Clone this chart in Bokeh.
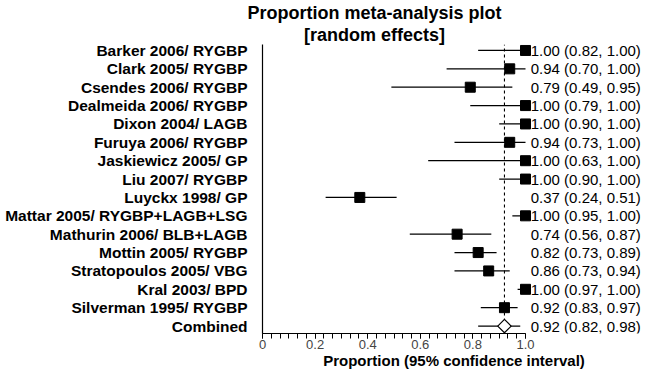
import math
from bokeh.plotting import figure
from bokeh.models import Range1d, FixedTicker, Title, ColumnDataSource
from bokeh.core.properties import value
from bokeh.embed import file_html
from bokeh.resources import INLINE

# ---- data ----
studies = ["Barker 2006/ RYGBP", "Clark 2005/ RYGBP", "Csendes 2006/ RYGBP",
           "Dealmeida 2006/ RYGBP", "Dixon 2004/ LAGB", "Furuya 2006/ RYGBP",
           "Jaskiewicz 2005/ GP", "Liu 2007/ RYGBP", "Luyckx 1998/ GP",
           "Mattar 2005/ RYGBP+LAGB+LSG", "Mathurin 2006/ BLB+LAGB",
           "Mottin 2005/ RYGBP", "Stratopoulos 2005/ VBG", "Kral 2003/ BPD",
           "Silverman 1995/ RYGBP"]
estimate = [1.00, 0.94, 0.79, 1.00, 1.00, 0.94, 1.00, 1.00, 0.37, 1.00, 0.74, 0.82, 0.86, 1.00, 0.92]
lower = [0.82, 0.70, 0.49, 0.79, 0.90, 0.73, 0.63, 0.90, 0.24, 0.95, 0.56, 0.73, 0.73, 0.97, 0.83]
upper = [1.00, 1.00, 0.95, 1.00, 1.00, 1.00, 1.00, 1.00, 0.51, 1.00, 0.87, 0.89, 0.94, 1.00, 0.97]
combined_label = "Combined"
combined_est = 0.92
combined_lower = 0.82
combined_upper = 0.98
x_tick_values = [0, 0.2, 0.4, 0.6, 0.8, 1.0]
x_tick_labels = ["0", "0.2", "0.4", "0.6", "0.8", "1.0"]
title_lines = ["Proportion meta-analysis plot", "[random effects]"]
x_axis_title = "Proportion (95% confidence interval)"

FONT = "Liberation Sans"

n_rows = len(studies) + 1
row_y = [n_rows - 1 - i for i in range(len(studies))]
comb_y = 0
all_labels = studies + [combined_label]
all_y = row_y + [comb_y]

def fmt(e, l, h):
    return f"{e:.2f} ({l:.2f}, {h:.2f})"

texts = [fmt(e, l, h) for e, l, h in zip(estimate, lower, upper)] + [fmt(combined_est, combined_lower, combined_upper)]

# ---- layout (pixel geometry) ----
W, H = 645, 371
left_b, top_b, bottom_b = 262, 44, 36
frame_w = W - left_b
unit_px = 263.0                     # pixels for proportion 0 -> 1
first_row_px, last_row_px, axis_px = 50.0, 327.5, 335.0
row_px = (last_row_px - first_row_px) / (n_rows - 1)
top_row = n_rows - 1
y_start = -(axis_px - last_row_px) / row_px
y_end = top_row + (first_row_px - top_b) / row_px
axis_top = y_end

p = figure(width=W, height=H, output_backend="svg", toolbar_location=None,
           x_range=Range1d(0, frame_w / unit_px), y_range=Range1d(y_start, y_end),
           min_border_left=left_b, min_border_right=0, min_border_top=top_b,
           min_border_bottom=bottom_b)
p.outline_line_color = None
p.xgrid.visible = False
p.ygrid.visible = False
p.background_fill_color = "white"
p.border_fill_color = "white"

# y axis with study labels
yax = p.yaxis[0]
yax.ticker = FixedTicker(ticks=all_y)
yax.major_label_overrides = {y: lab for y, lab in zip(all_y, all_labels)}
yax.major_tick_line_color = None
yax.minor_tick_line_color = None
yax.major_label_standoff = 9
yax.major_label_text_font = FONT
yax.major_label_text_font_style = "bold"
yax.major_label_text_font_size = "15.5px"
yax.major_label_text_color = "black"
yax.axis_line_color = "black"
yax.axis_line_width = 1.2
yax.bounds = (y_start, axis_top)

# x axis
xax = p.xaxis[0]
xax.ticker = FixedTicker(ticks=x_tick_values, minor_ticks=[i / 30 for i in range(31)])
xax.major_label_overrides = {v: t for v, t in zip(x_tick_values, x_tick_labels)}
xax.bounds = (0, 1)
xax.axis_line_color = "black"
xax.axis_line_width = 1.2
xax.major_tick_out = 5
xax.major_tick_in = 0
xax.minor_tick_out = 5
xax.minor_tick_in = 0
xax.major_tick_line_color = "black"
xax.minor_tick_line_color = "black"
xax.major_label_standoff = 1
xax.major_label_text_font = FONT
xax.major_label_text_font_size = "13px"
xax.major_label_text_color = "#444444"
xax.axis_label = x_axis_title
xax.axis_label_standoff = 0
xax.axis_label_text_font = FONT
xax.axis_label_text_font_style = "bold"
xax.axis_label_text_font_size = "15px"
xax.axis_label_text_color = "black"

# pooled estimate reference line
p.segment(x0=[combined_est], x1=[combined_est], y0=[y_start], y1=[axis_top],
          line_color="black", line_width=1.1, line_dash="3 3")

src = ColumnDataSource(dict(y=row_y, est=estimate, lo=lower, hi=upper))
p.segment(x0="lo", x1="hi", y0="y", y1="y", source=src, line_color="black", line_width=1.3)
p.scatter(x="est", y="y", source=src, marker="square", size=10,
          fill_color="black", line_color="black")

# combined
p.segment(x0=[combined_lower], x1=[combined_upper], y0=[comb_y], y1=[comb_y],
          line_color="black", line_width=1.3)
p.scatter(x=[combined_est], y=[comb_y], marker="square", angle=math.pi / 4, size=9.5,
          fill_color="white", line_color="black", line_width=1.2)

# value texts
tsrc = ColumnDataSource(dict(x=[1.02] * n_rows, y=all_y, t=texts))
p.text(x="x", y="y", text="t", source=tsrc, text_font=value(FONT), text_font_size="15px",
       text_align="left", text_baseline="middle", text_color="black")

# title: two lines centred near x = 374 px (left-aligned titles with offsets)
title_center_px = 374.0
title_size = 18
bold_em = {"P": .667, "r": .389, "o": .611, "p": .611, "t": .333, "i": .278, "n": .611,
           " ": .278, "m": .889, "e": .556, "a": .556, "-": .333, "l": .278, "y": .556,
           "s": .556, "[": .333, "]": .333, "d": .611, "f": .333, "c": .556}
def est_width(s):
    return sum(bold_em.get(ch, .6) for ch in s) * title_size

# the line closest to the plot is added first
for line in reversed(title_lines):
    off = title_center_px - est_width(line) / 2 - left_b
    p.add_layout(Title(text=line, align="left", offset=off, standoff=0,
                       text_font=FONT, text_font_style="bold",
                       text_font_size=f"{title_size}px", text_color="black"), "above")

open("out.html", "w").write(file_html(p, INLINE))
